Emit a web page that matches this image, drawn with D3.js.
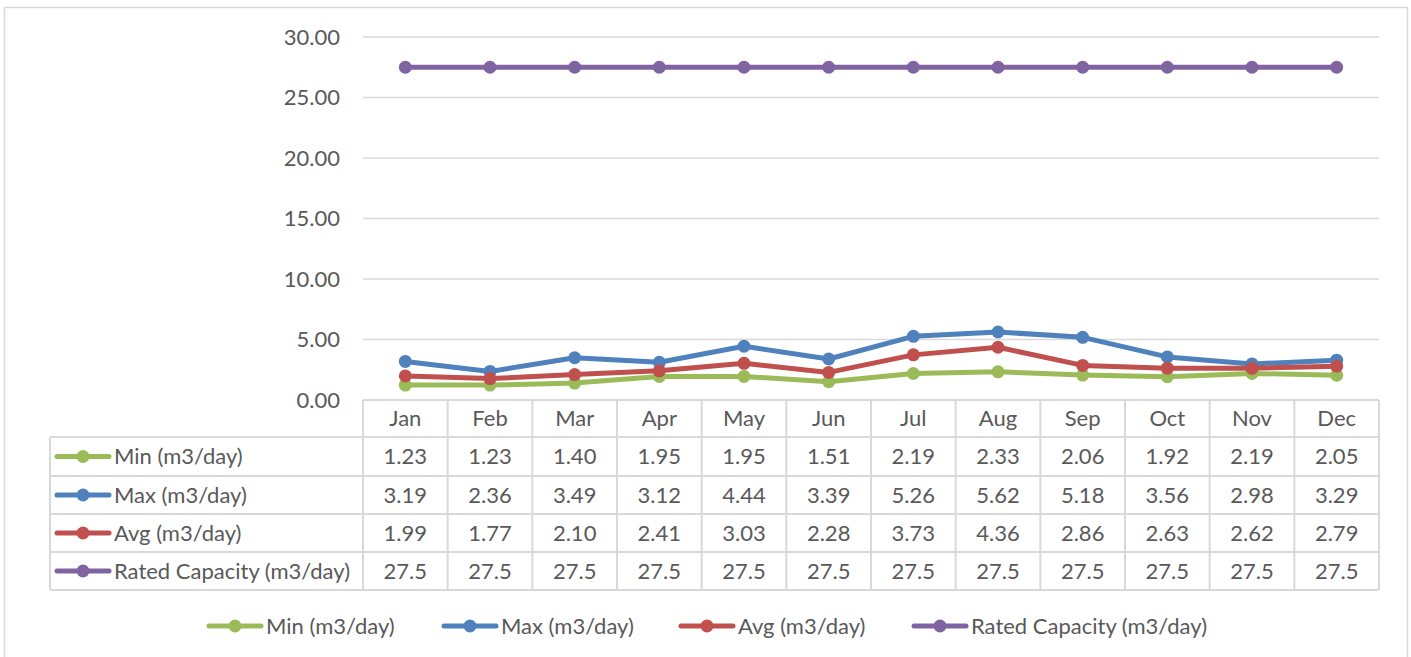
<!DOCTYPE html>
<html>
<head>
<meta charset="utf-8">
<script src="https://cdn.jsdelivr.net/npm/d3@7"></script>
<style>
  body { margin: 0; background: #fff; }
  svg text { font-family: "Lato", "Open Sans", sans-serif; fill: #595959; }
</style>
</head>
<body>
<svg width="1411" height="657"></svg>
<script>
let width = 1411, height = 657;

let months = ["Jan", "Feb", "Mar", "Apr", "May", "Jun", "Jul", "Aug", "Sep", "Oct", "Nov", "Dec"];
let minVals = [1.23, 1.23, 1.40, 1.95, 1.95, 1.51, 2.19, 2.33, 2.06, 1.92, 2.19, 2.05];
let maxVals = [3.19, 2.36, 3.49, 3.12, 4.44, 3.39, 5.26, 5.62, 5.18, 3.56, 2.98, 3.29];
let avgVals = [1.99, 1.77, 2.10, 2.41, 3.03, 2.28, 3.73, 4.36, 2.86, 2.63, 2.62, 2.79];
let capVals = [27.5, 27.5, 27.5, 27.5, 27.5, 27.5, 27.5, 27.5, 27.5, 27.5, 27.5, 27.5];
let seriesNames = ["Min (m3/day)", "Max (m3/day)", "Avg (m3/day)", "Rated Capacity (m3/day)"];
let seriesColors = ["#9bbb59", "#4f81bd", "#c0504d", "#8064a2"];
let yTicks = [0, 5, 10, 15, 20, 25, 30];

let series = [
  {name: seriesNames[0], color: seriesColors[0], values: minVals, fmt: d3.format(".2f")},
  {name: seriesNames[1], color: seriesColors[1], values: maxVals, fmt: d3.format(".2f")},
  {name: seriesNames[2], color: seriesColors[2], values: avgVals, fmt: d3.format(".2f")},
  {name: seriesNames[3], color: seriesColors[3], values: capVals, fmt: d3.format(".1f")}
];

let fontSize = "22px";
let svg = d3.select("svg");

// outer chart frame
svg.append("rect")
  .attr("x", 4.5).attr("y", 7.5)
  .attr("width", 1403).attr("height", 660)
  .attr("fill", "none").attr("stroke", "#d9d9d9").attr("stroke-width", 1.5);

let plotLeft = 363, plotRight = 1379, plotTop = 37, plotBottom = 400;

let x = d3.scaleBand().domain(months).range([plotLeft, plotRight]);
let y = d3.scaleLinear().domain([0, 30]).range([plotBottom, plotTop]);

// gridlines
svg.append("g")
  .selectAll("line")
  .data(yTicks.filter(d => d > 0))
  .enter()
  .append("line")
  .attr("x1", plotLeft).attr("x2", plotRight)
  .attr("y1", d => y(d)).attr("y2", d => y(d))
  .attr("stroke", "#d9d9d9").attr("stroke-width", 1.5);

// y labels
svg.append("g")
  .selectAll("text")
  .data(yTicks)
  .enter()
  .append("text")
  .attr("x", 340)
  .attr("y", d => y(d))
  .attr("dy", "0.35em")
  .attr("text-anchor", "end")
  .style("font-size", fontSize)
  .text(d => d3.format(".2f")(d));

// lines + markers, later series on top
let line = d3.line()
  .x((d, i) => x(months[i]) + x.bandwidth() / 2)
  .y(d => y(d));

series.forEach(s => {
  let g = svg.append("g");
  g.append("path")
    .attr("d", line(s.values))
    .attr("fill", "none")
    .attr("stroke", s.color)
    .attr("stroke-width", 5)
    .attr("stroke-linejoin", "round")
    .attr("stroke-linecap", "round");
  g.selectAll("circle")
    .data(s.values)
    .enter()
    .append("circle")
    .attr("cx", (d, i) => x(months[i]) + x.bandwidth() / 2)
    .attr("cy", d => y(d))
    .attr("r", 6.5)
    .attr("fill", s.color);
});

// data table
let tableLeft = 50;
let rowEdges = [400, 437, 476, 514, 552, 590];
let tg = svg.append("g");
let gridColor = "#d9d9d9";

rowEdges.forEach((ry, i) => {
  tg.append("line")
    .attr("x1", i === 0 ? plotLeft : tableLeft).attr("x2", plotRight)
    .attr("y1", ry).attr("y2", ry)
    .attr("stroke", gridColor).attr("stroke-width", 2);
});
tg.append("line")
  .attr("x1", tableLeft).attr("x2", tableLeft)
  .attr("y1", rowEdges[1]).attr("y2", rowEdges[5])
  .attr("stroke", gridColor).attr("stroke-width", 2);
months.concat([null]).forEach(m => {
  let lx = m === null ? plotRight : x(m);
  tg.append("line")
    .attr("x1", lx).attr("x2", lx)
    .attr("y1", rowEdges[0]).attr("y2", rowEdges[5])
    .attr("stroke", gridColor).attr("stroke-width", 2);
});

// header
tg.selectAll("text.hdr")
  .data(months)
  .enter()
  .append("text")
  .attr("class", "hdr")
  .attr("x", d => x(d) + x.bandwidth() / 2)
  .attr("y", (rowEdges[0] + rowEdges[1]) / 2)
  .attr("dy", "0.35em")
  .attr("text-anchor", "middle")
  .style("font-size", fontSize)
  .text(d => d);

function legendKey(g, cx, cy, color) {
  g.append("line")
    .attr("x1", cx - 26).attr("x2", cx + 26)
    .attr("y1", cy).attr("y2", cy)
    .attr("stroke", color).attr("stroke-width", 5)
    .attr("stroke-linecap", "round");
  g.append("circle")
    .attr("cx", cx).attr("cy", cy).attr("r", 6.5)
    .attr("fill", color);
}

series.forEach((s, k) => {
  let cy = (rowEdges[k + 1] + rowEdges[k + 2]) / 2;
  legendKey(tg, 83, cy, s.color);
  tg.append("text")
    .attr("x", 114).attr("y", cy).attr("dy", "0.35em")
    .style("font-size", fontSize)
    .text(s.name);
  tg.selectAll("text.v" + k)
    .data(s.values)
    .enter()
    .append("text")
    .attr("class", "v" + k)
    .attr("x", (d, i) => x(months[i]) + x.bandwidth() / 2)
    .attr("y", cy).attr("dy", "0.35em")
    .attr("text-anchor", "middle")
    .style("font-size", fontSize)
    .text(d => s.fmt(d));
});

// legend at the bottom
let legendX = [235, 470, 707, 940];
let lg = svg.append("g");
series.forEach((s, k) => {
  legendKey(lg, legendX[k], 626, s.color);
  lg.append("text")
    .attr("x", legendX[k] + 31).attr("y", 626).attr("dy", "0.35em")
    .style("font-size", fontSize)
    .text(s.name);
});
</script>
</body>
</html>
